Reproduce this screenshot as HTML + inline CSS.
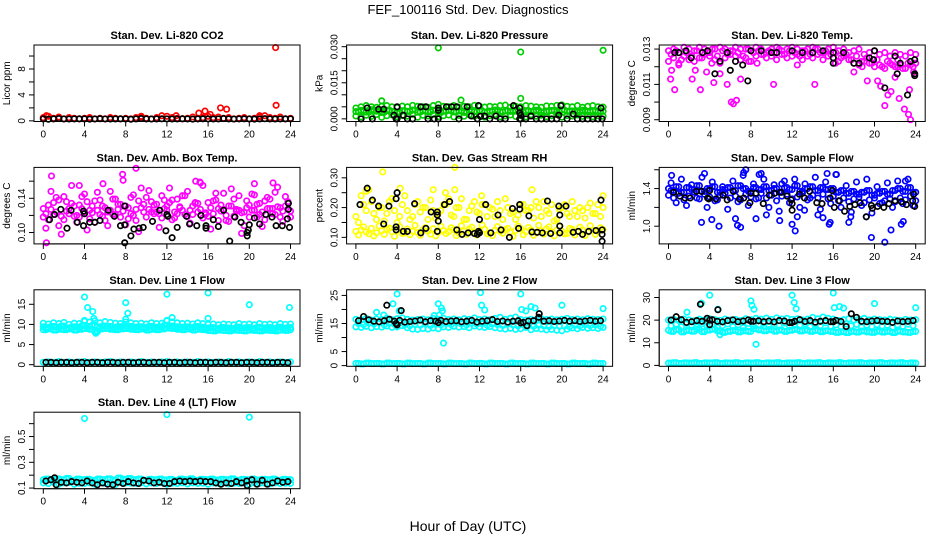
<!DOCTYPE html>
<html><head><meta charset="utf-8">
<style>
html,body{margin:0;padding:0;background:#fff;}
svg{display:block;font-family:"Liberation Sans",sans-serif;}
</style></head>
<body>
<svg id="chart" width="936" height="540" viewBox="0 0 936 540">
<rect x="0" y="0" width="936" height="540" fill="#fff"/>
<text x="468" y="14" font-size="13" text-anchor="middle">FEF_100116  Std. Dev. Diagnostics</text>
<text x="468" y="531" font-size="14" text-anchor="middle">Hour of Day (UTC)</text>
</svg>
<script>
// ---------- shared hour grids (categories) ----------
const H = [0,0.5,1,1.5,2,2.5,3,3.5,4,4.5,5,5.5,6,6.5,7,7.5,8,8.5,9,9.5,10,10.5,11,11.5,12,12.5,13,13.5,14,14.5,15,15.5,16,16.5,17,17.5,18,18.5,19,19.5,20,20.5,21,21.5,22,22.5,23,23.5,24];
const H2 = [0.25,0.75,1.25,1.75,2.25,2.75,3.25,3.75,4.25,4.75,5.25,5.75,6.25,6.75,7.25,7.75,8.25,8.75,9.25,9.75,10.25,10.75,11.25,11.75,12.25,12.75,13.25,13.75,14.25,14.75,15.25,15.75,16.25,16.75,17.25,17.75,18.25,18.75,19.25,19.75,20.25,20.75,21.25,21.75,22.25,22.75,23.25,23.75];
const xTickLabels = [0,4,8,12,16,20,24];

// ---------- Panel 1: CO2 ----------
const co2Red = [0.5,0.7,0.4,0.6,0.3,0.5,0.4,0.3,0.4,0.5,0.3,0.4,0.3,0.5,0.4,0.3,0.4,0.3,0.5,0.6,0.4,0.3,0.5,0.8,0.7,0.5,0.4,0.3,0.4,0.6,0.4,0.5,0.7,0.5,0.6,0.4,0.5,0.3,0.4,0.5,0.3,0.4,0.6,0.8,0.5,0.4,0.6,0.3,0.4];
const co2Black = [0.3,0.25,0.3,0.35,0.3,0.28,0.3,0.32,0.3,0.27,0.3,0.33,0.3,0.28,0.3,0.31,0.3,0.26,0.3,0.34,0.3,0.29,0.3,0.32,0.3,0.28,0.3,0.33,0.3,0.27,0.3,0.31,0.3,0.29,0.3,0.34,0.3,0.28,0.3,0.32,0.3,0.27,0.3,0.33,0.3,0.29,0.3,0.31,0.3];
const co2OutHours = [0.3,12.9,15.1,15.7,17.2,17.8,21.0,22.55,22.6,16.2,9.5];
const co2OutVals = [0.8,0.8,1.2,1.5,2.0,1.8,0.8,11.3,2.4,1.0,0.7];

// ---------- Panel 2: Pressure ----------
const presG1 = [0.0045,0.005,0.0055,0.005,0.0048,0.0052,0.0055,0.005,0.0047,0.0053,0.005,0.0056,0.0052,0.005,0.0048,0.0055,0.006,0.0052,0.005,0.0055,0.0048,0.0052,0.005,0.0056,0.0053,0.0049,0.0052,0.005,0.0055,0.0057,0.0048,0.0052,0.005,0.0055,0.0053,0.005,0.0048,0.0054,0.0052,0.0056,0.0058,0.0052,0.005,0.0055,0.0048,0.0052,0.0055,0.005,0.0049];
const presG2 = [0.003,0.0035,0.0028,0.0038,0.0032,0.0027,0.0036,0.003,0.0025,0.0034,0.0031,0.0037,0.0028,0.0033,0.003,0.0036,0.0026,0.0032,0.0035,0.0029,0.0033,0.0027,0.0036,0.003,0.0034,0.0028,0.0032,0.0037,0.0029,0.0033,0.0031,0.0035,0.0027,0.0034,0.003,0.0036,0.0028,0.0032,0.0035,0.0029,0.0037,0.0031,0.0033,0.0028,0.0036,0.003,0.0034,0.0029,0.0032];
const presG3 = [0.0012,0.0008,0.0015,0.001,0.0018,0.0006,0.0013,0.0017,0.0009,0.0014,0.0011,0.0019,0.0007,0.0015,0.0012,0.0018,0.0009,0.0013,0.0016,0.0008,0.0014,0.0011,0.0017,0.001,0.0015,0.0007,0.0013,0.0018,0.0009,0.0012,0.0016,0.001,0.0014,0.0008,0.0017,0.0011,0.0015,0.0009,0.0013,0.0018,0.0007,0.0014,0.0012,0.0016,0.001,0.0015,0.0009,0.0013,0.0011];
const presGOutHours = [8.0,16.0,24.0,16.0,2.5,10.2];
const presGOutVals = [0.0295,0.0278,0.0285,0.0085,0.0075,0.0078];
const presBlackHours = [0.5,1.6,3.9,4.0,5.0,5.5,7.0,7.6,8.0,10.0,11.8,13.0,14.0,14.5,15.9,16.0,16.5,17.5,18.0,18.5,19.0,19.5,20.5,21.5,22.0,22.5,23.0,23.5,23.9,1.1,2.2,2.7,3.7,4.0,4.6,6.3,6.8,8.0,8.0,8.8,9.3,9.8,10.8,11.2,11.9,12.1,12.5,13.6,15.3,15.9,15.9,16.0,17.0,19.7,19.9,21.1,23.8];
const presBlackVals = [0,0,0,0,0,0,0,0,0,0,0,0,0,0,0,0,0,0,0,0,0,0,0,0,0,0,0,0,0,0.0045,0.004,0.004,0.0015,0.005,0.0015,0.005,0.005,0.0045,0.0035,0.005,0.005,0.005,0.005,0.0012,0.0055,0.001,0.0012,0.0012,0.0055,0.0045,0.0025,0.0015,0.0012,0.0015,0.0055,0.002,0.0045];

// ---------- Panel 3: Li-820 Temp ----------
const tempMagA = [0.0129,0.013,0.0128,0.0131,0.013,0.0129,0.0131,0.013,0.0128,0.013,0.0131,0.013,0.0129,0.0131,0.013,0.013,0.0129,0.0131,0.013,0.0128,0.013,0.0131,0.0129,0.013,0.0131,0.013,0.0129,0.013,0.0131,0.013,0.0128,0.013,0.0131,0.0129,0.013,0.0128,0.0129,0.013,0.0127,0.0128,0.0129,0.0127,0.0128,0.0126,0.0128,0.0127,0.0126,0.0128,0.0127];
const tempMagB = [0.0123,0.0125,0.0122,0.0126,0.0124,0.0123,0.0125,0.0127,0.0126,0.0124,0.0122,0.0125,0.0127,0.0126,0.0124,0.0125,0.0123,0.0126,0.0127,0.0125,0.0126,0.0124,0.0127,0.0125,0.0126,0.0127,0.0124,0.0126,0.0125,0.0127,0.0124,0.0126,0.0125,0.0123,0.0126,0.0124,0.0122,0.0121,0.0123,0.0122,0.012,0.0121,0.0119,0.0122,0.012,0.0121,0.0119,0.0121,0.0122];
const tempMagC = [0.0127,0.0129,0.0124,0.0128,0.0126,0.0129,0.0125,0.0128,0.013,0.0126,0.0129,0.0127,0.0129,0.0128,0.0126,0.013,0.0128,0.0129,0.0127,0.0129,0.0128,0.013,0.0127,0.0129,0.0128,0.0126,0.0129,0.0127,0.013,0.0128,0.0129,0.0127,0.0128,0.0125,0.0127,0.0124,0.0126,0.0123,0.0125,0.0122,0.0124,0.012,0.0123,0.0121,0.0124,0.0119,0.0122,0.012];
const tempOutHours = [0.3,0.2,0.6,2.3,2.6,3.1,3.7,4.4,5.0,5.7,6.1,6.3,6.6,7.0,8.6,10.2,12.5,14.2,18.0,19.3,20.3,21.0,21.3,21.6,22.4,22.9,23.3,23.5,23.4,22.0,20.6,23.8,22.3,18.8,4.2,7.8,16.2,1.0];
const tempOutVals = [0.0118,0.0113,0.0107,0.0113,0.0118,0.0107,0.0117,0.0111,0.0116,0.011,0.01,0.0099,0.0101,0.0113,0.0122,0.011,0.0121,0.011,0.0117,0.0112,0.0112,0.0098,0.0104,0.0106,0.0102,0.0096,0.0093,0.009,0.0107,0.0114,0.0109,0.0117,0.012,0.012,0.0122,0.0123,0.0122,0.0121];
const tempBlackHours = [0.6,1.0,1.7,2.2,3.3,3.8,4.5,5.0,5.7,6.0,6.5,7.2,7.7,8.0,9.0,10.0,10.5,12.0,13.0,14.0,15.0,16.0,16.0,16.0,17.0,18.0,18.5,19.5,20.0,19.9,21.0,22.0,22.5,22.2,23.2,23.5,23.9,23.9,23.9];
const tempBlackVals = [0.0128,0.0128,0.0129,0.0125,0.0128,0.0129,0.0116,0.0123,0.0128,0.0118,0.0123,0.0121,0.0112,0.0129,0.0129,0.0128,0.0128,0.0129,0.0128,0.0128,0.0129,0.0128,0.0125,0.0122,0.0128,0.0122,0.0122,0.0125,0.0129,0.0124,0.0108,0.0126,0.0122,0.0116,0.0104,0.0123,0.0116,0.0115,0.0124];

// ---------- Panel 4: Amb Box Temp ----------
const ambMagA = [0.128,0.115,0.135,0.108,0.142,0.122,0.131,0.118,0.145,0.126,0.112,0.138,0.129,0.148,0.121,0.133,0.109,0.141,0.127,0.152,0.118,0.136,0.124,0.143,0.131,0.115,0.139,0.126,0.148,0.121,0.134,0.155,0.119,0.137,0.128,0.146,0.113,0.139,0.126,0.108,0.132,0.144,0.121,0.137,0.128,0.147,0.118,0.131,0.125];
const ambMagB = [0.118,0.132,0.121,0.138,0.115,0.128,0.119,0.132,0.124,0.116,0.137,0.121,0.114,0.126,0.139,0.118,0.131,0.122,0.114,0.129,0.141,0.124,0.133,0.117,0.126,0.138,0.122,0.143,0.119,0.131,0.124,0.117,0.135,0.122,0.114,0.127,0.131,0.119,0.143,0.124,0.118,0.126,0.134,0.115,0.139,0.121,0.129,0.142,0.118];
const ambMagC = [0.105,0.148,0.124,0.098,0.136,0.155,0.112,0.142,0.103,0.131,0.147,0.119,0.108,0.139,0.127,0.161,0.116,0.144,0.101,0.133,0.149,0.122,0.106,0.138,0.152,0.117,0.129,0.143,0.111,0.135,0.158,0.121,0.104,0.146,0.132,0.114,0.151,0.125,0.099,0.137,0.145,0.118,0.107,0.141,0.128,0.153,0.113,0.136];
const ambMagD = [0.122,0.127,0.141,0.119,0.125,0.134,0.12,0.128,0.136,0.123,0.126,0.131,0.124,0.121,0.133,0.125,0.129,0.12,0.137,0.124,0.127,0.132,0.122,0.128,0.135,0.124,0.13,0.121,0.126,0.134,0.127,0.123,0.129,0.138,0.125,0.12,0.131,0.127,0.123,0.129,0.126,0.133,0.124,0.128,0.122,0.13,0.125,0.127];
const ambOutHours = [0.8,0.3,7.7,9.0,14.8,22.3,5.8,15.2,20.5,3.5];
const ambOutVals = [0.166,0.088,0.168,0.175,0.16,0.158,0.157,0.159,0.157,0.155];
const ambBlackHours = [0.6,1.1,1.7,2.3,2.7,3.3,3.9,3.9,4.0,4.5,5.0,5.5,6.3,6.9,7.5,7.9,7.9,7.9,8.5,8.8,9.3,9.7,10.6,11.3,11.9,12.0,12.1,12.5,13.0,13.9,14.2,14.9,15.3,15.8,15.8,16.5,17.0,17.5,18.1,18.6,19.2,19.8,19.8,19.9,20.0,20.5,21.0,21.6,22.2,22.6,23.2,23.7,23.8,23.8,23.9];
const ambBlackVals = [0.115,0.121,0.127,0.105,0.126,0.112,0.125,0.108,0.122,0.112,0.112,0.114,0.126,0.119,0.108,0.109,0.131,0.088,0.096,0.104,0.105,0.106,0.113,0.126,0.102,0.121,0.119,0.094,0.106,0.119,0.11,0.108,0.12,0.108,0.105,0.115,0.107,0.126,0.09,0.118,0.112,0.096,0.1,0.103,0.109,0.117,0.11,0.121,0.118,0.108,0.108,0.116,0.134,0.127,0.106];

// ---------- Panel 5: Gas Stream RH ----------
const rhYelA = [0.12,0.125,0.118,0.13,0.115,0.122,0.127,0.119,0.124,0.113,0.128,0.12,0.116,0.125,0.121,0.129,0.117,0.123,0.119,0.126,0.114,0.121,0.128,0.118,0.122,0.127,0.115,0.124,0.12,0.126,0.117,0.123,0.129,0.119,0.125,0.116,0.122,0.128,0.118,0.124,0.121,0.113,0.127,0.12,0.125,0.117,0.123,0.119,0.126];
const rhYelB = [0.108,0.135,0.112,0.105,0.138,0.11,0.131,0.104,0.136,0.115,0.109,0.14,0.107,0.133,0.111,0.105,0.137,0.113,0.132,0.106,0.139,0.11,0.134,0.108,0.141,0.112,0.106,0.136,0.114,0.13,0.104,0.138,0.109,0.133,0.107,0.14,0.111,0.135,0.105,0.137,0.112,0.13,0.108,0.134,0.106,0.139,0.11,0.132];
const rhYelC = [0.17,0.24,0.19,0.22,0.16,0.2,0.18,0.23,0.15,0.21,0.19,0.17,0.22,0.2,0.16,0.19,0.18,0.21,0.23,0.17,0.2,0.16,0.19,0.22,0.18,0.21,0.2,0.17,0.19,0.23,0.18,0.16,0.21,0.19,0.2,0.22,0.17,0.19,0.21,0.16,0.2,0.18,0.22,0.17,0.19,0.2,0.18,0.21,0.24];
const rhYelD = [0.15,0.21,0.26,0.18,0.2,0.155,0.22,0.19,0.17,0.24,0.16,0.21,0.185,0.2,0.225,0.165,0.19,0.21,0.175,0.2,0.23,0.16,0.205,0.185,0.21,0.17,0.195,0.22,0.16,0.2,0.185,0.175,0.21,0.19,0.165,0.2,0.22,0.18,0.155,0.195,0.21,0.17,0.19,0.2,0.165,0.215,0.18,0.17];
const rhOutHours = [2.6,9.6,1.0,4.3,7.5,8.7,9.6,17.1,24.0,12.2];
const rhOutVals = [0.32,0.335,0.255,0.265,0.26,0.25,0.26,0.26,0.2,0.24];
const rhBlackHours = [0.4,1.1,1.6,2.2,2.7,3.2,3.9,4.0,3.9,3.9,4.6,5.0,5.7,6.3,6.8,7.3,7.9,7.9,8.0,7.9,8.6,9.1,9.8,10.3,10.9,11.5,11.9,12.0,12.0,11.8,12.6,13.1,13.8,14.1,14.9,15.2,15.9,15.9,15.8,16.8,17.1,17.6,18.1,18.6,18.9,19.7,19.8,19.8,19.8,20.4,21.1,21.6,22.0,22.6,23.3,23.8,23.9,23.9,23.9];
const rhBlackVals = [0.21,0.265,0.225,0.205,0.145,0.205,0.23,0.25,0.125,0.135,0.12,0.12,0.213,0.115,0.13,0.185,0.185,0.175,0.155,0.12,0.21,0.22,0.125,0.11,0.115,0.113,0.12,0.115,0.16,0.11,0.21,0.115,0.175,0.125,0.1,0.197,0.21,0.195,0.13,0.172,0.118,0.117,0.115,0.222,0.113,0.205,0.175,0.138,0.115,0.205,0.117,0.12,0.11,0.12,0.123,0.225,0.125,0.11,0.087];

// ---------- Panel 6: Sample Flow ----------
const sfBlueA = [1.4,1.38,1.42,1.36,1.41,1.39,1.43,1.37,1.4,1.42,1.36,1.39,1.41,1.38,1.43,1.4,1.37,1.41,1.39,1.42,1.38,1.4,1.36,1.41,1.39,1.43,1.37,1.4,1.42,1.38,1.41,1.39,1.4,1.36,1.38,1.35,1.37,1.34,1.36,1.38,1.33,1.35,1.37,1.34,1.38,1.4,1.37,1.41,1.36];
const sfBlueB = [1.33,1.3,1.35,1.28,1.32,1.36,1.29,1.34,1.31,1.27,1.33,1.35,1.3,1.32,1.28,1.34,1.31,1.29,1.35,1.3,1.33,1.27,1.32,1.34,1.29,1.31,1.35,1.28,1.33,1.3,1.34,1.29,1.32,1.27,1.3,1.26,1.29,1.31,1.25,1.28,1.3,1.24,1.27,1.29,1.26,1.3,1.28,1.32,1.27];
const sfBlueC = [1.46,1.25,1.5,1.22,1.44,1.3,1.52,1.2,1.47,1.28,1.42,1.18,1.48,1.26,1.54,1.22,1.45,1.3,1.5,1.2,1.44,1.16,1.48,1.25,1.5,1.2,1.45,1.3,1.52,1.18,1.47,1.24,1.55,1.2,1.43,1.15,1.47,1.22,1.5,1.14,1.42,1.25,1.46,1.2,1.48,1.24,1.5,1.22];
const sfOutHours = [0.3,3.2,3.5,4.2,4.9,6.5,6.7,7.3,7.5,7.0,8.5,9.5,10.8,11.0,12.0,12.3,12.5,13.2,14.5,15.0,15.4,15.6,15.7,16.3,17.5,17.7,19.7,19.2,21.0,21.6,22.6,22.8,23.0,8.8,9.0];
const sfOutVals = [1.54,1.04,1.56,1.07,1.0,1.08,1.01,1.57,1.6,0.99,1.08,1.12,1.06,1.45,1.02,0.95,1.1,1.17,1.12,1.09,1.56,1.02,1.04,1.55,1.04,1.1,0.88,1.1,0.83,0.96,1.02,1.05,1.48,1.55,1.56];
const sfBlackHours = [0.5,1.1,1.6,2.1,2.7,3.2,3.8,3.9,4.0,4.6,5.3,5.7,6.3,6.9,7.3,7.9,8.0,8.5,9.2,9.8,10.3,10.9,11.5,11.9,12.0,12.0,12.7,13.2,13.7,14.4,14.9,15.7,15.9,16.1,16.6,17.1,17.6,18.1,18.6,19.2,19.7,19.8,20.3,20.9,21.4,22.0,22.6,23.1,23.7,23.8,23.9];
const sfBlackVals = [1.36,1.32,1.3,1.3,1.37,1.37,1.3,1.29,1.38,1.29,1.33,1.28,1.37,1.29,1.3,1.25,1.35,1.35,1.24,1.33,1.35,1.36,1.32,1.28,1.24,1.17,1.34,1.3,1.37,1.25,1.24,1.3,1.38,1.2,1.27,1.16,1.21,1.23,1.25,1.1,1.22,1.19,1.21,1.2,1.24,1.27,1.26,1.23,1.27,1.34,1.21];

// ---------- Panel 7: Line 1 Flow ----------
const l1CyanA = [10.3,10.1,10.4,10.2,10.5,10.0,10.3,10.2,10.8,10.6,10.9,10.4,10.7,10.5,10.3,10.2,10.6,10.4,10.2,10.3,10.1,10.4,10.2,10.3,10.9,10.6,10.4,10.2,10.3,10.1,10.4,10.2,10.0,10.1,9.9,10.1,10.0,9.9,10.2,10.0,10.1,9.9,10.2,10.0,10.1,9.9,10.2,10.0,10.1];
const l1CyanB = [9.4,9.2,9.5,9.3,9.6,9.1,9.4,9.3,9.7,9.5,9.8,9.4,9.6,9.5,9.3,9.4,9.6,9.5,9.3,9.4,9.2,9.5,9.3,9.4,9.8,9.6,9.4,9.3,9.4,9.2,9.5,9.3,9.1,9.2,9.0,9.2,9.1,9.0,9.3,9.1,9.2,9.0,9.3,9.1,9.2,9.0,9.3,9.1,9.2];
const l1CyanC = [8.7,8.9,8.6,8.8,8.7,8.9,8.6,8.8,9.0,8.8,8.2,8.9,9.0,8.8,8.7,8.9,9.0,8.8,8.7,8.9,8.6,8.8,8.7,8.9,9.1,9.0,8.8,8.7,8.9,8.6,8.8,8.7,8.5,8.4,8.6,8.5,8.4,8.6,8.5,8.4,8.6,8.5,8.4,8.6,8.5,8.4,8.6,8.5,8.7];
const l1CyanLow = [0.6,0.7,0.6,0.8,0.6,0.7,0.6,0.7,0.8,0.6,0.7,0.6,0.7,0.8,0.6,0.7,0.6,0.7,0.6,0.8,0.6,0.7,0.6,0.7,0.8,0.6,0.7,0.6,0.7,0.6,0.8,0.6,0.7,0.6,0.7,0.6,0.8,0.6,0.7,0.6,0.7,0.6,0.8,0.6,0.7,0.6,0.7,0.6,0.7];
const l1BlackLow = [0.6,0.6,0.5,0.6,0.6,0.5,0.6,0.6,0.5,0.6,0.6,0.5,0.6,0.6,0.5,0.6,0.6,0.5,0.6,0.6,0.5,0.6,0.6,0.5,0.6,0.6,0.5,0.6,0.6,0.5,0.6,0.6,0.5,0.6,0.6,0.5,0.6,0.6,0.5,0.6,0.6,0.5,0.6,0.6,0.5,0.6,0.6,0.5];
const l1OutHours = [4.0,4.3,4.8,4.9,5.1,8.0,8.2,8.0,12.0,12.5,16.0,16.0,20.0,23.9,12.0,4.0];
const l1OutVals = [16.8,14.2,13.2,11.5,7.8,15.4,12.8,11.3,17.5,11.7,17.8,11.5,14.9,14.2,11.0,11.0];

// ---------- Panel 8: Line 2 Flow ----------
const l2CyanA = [16.5,16.3,16.8,16.2,16.6,16.4,16.9,16.3,16.7,17.0,16.5,16.2,16.4,16.6,16.3,16.8,16.5,16.9,16.4,16.6,16.3,16.7,16.5,17.0,16.4,16.6,16.3,16.8,17.2,16.5,16.9,17.3,16.4,16.2,16.5,16.3,16.7,16.4,16.6,16.3,16.5,16.8,16.4,16.6,16.3,16.7,16.5,16.4,16.6];
const l2CyanB = [13.8,13.6,14.0,13.5,13.9,13.7,14.1,13.6,13.8,14.2,13.5,13.0,12.9,13.2,13.0,13.4,13.1,13.8,13.6,14.0,13.7,13.9,13.5,14.1,13.8,13.6,13.9,13.5,13.2,13.0,13.3,12.9,13.1,13.6,12.8,13.2,13.0,12.7,12.9,12.6,12.4,13.0,13.4,13.1,13.6,13.3,13.5,13.2,13.6];
const l2CyanC = [15.0,14.6,15.2,14.8,15.4,14.5,15.1,14.7,15.3,14.6,14.2,14.8,14.4,14.9,14.3,14.7,14.5,15.0,14.6,15.2,14.8,14.5,15.1,14.7,15.0,14.4,14.9,14.6,14.3,14.8,14.5,14.1,14.7,14.2,14.0,14.4,14.1,13.9,14.3,14.0,14.2,13.8,14.4,14.1,14.6,14.2,14.5,14.0,14.4];
const l2CyanLow = [0.8,0.6,0.9,0.7,0.8,0.6,0.9,0.7,0.8,0.6,0.9,0.7,0.8,0.6,0.9,0.7,0.8,0.6,0.9,0.7,0.8,0.6,0.9,0.7,0.8,0.6,0.9,0.7,0.8,0.6,0.9,0.7,0.8,0.6,0.9,0.7,0.8,0.6,0.9,0.7,0.8,0.6,0.9,0.7,0.8,0.6,0.9,0.7,0.8];
const l2OutHours = [4.0,3.6,2.0,2.7,8.0,8.3,8.4,8.5,12.1,12.2,12.5,16.0,16.1,16.5,17.0,17.4,20.0,24.0,4.2,7.6,8.1];
const l2OutVals = [25.5,22.0,19.0,18.0,22.0,20.5,19.5,8.0,26.0,21.5,19.8,25.5,20.0,19.5,21.0,20.5,21.5,20.3,19.5,17.8,18.0];
const l2BlackA = [16.0,17.5,16.3,15.8,15.6,16.0,16.5,15.8,16.1,15.5,15.7,15.9,16.2,15.6,16.0,15.8,16.1,15.7,15.9,16.0,15.6,15.8,16.1,15.5,15.8,16.0,16.4,15.7,15.9,15.5,15.8,16.0,15.4,15.9,16.0,17.2,15.8,16.0,15.7,15.9,16.1,15.8,16.0,15.7,15.9,16.1,15.8,16.0];
const l2BlackOutHours = [3.0,4.4,17.8,4.0,16.6,3.9,16.0,8.0];
const l2BlackOutVals = [21.5,19.6,18.5,14.5,14.2,15.0,15.2,15.3];

// ---------- Panel 9: Line 3 Flow ----------
const l3CyanA = [20.0,20.3,19.8,20.5,20.1,19.7,20.4,20.0,20.6,20.2,19.9,20.5,20.1,20.3,19.8,20.6,20.2,20.8,20.4,20.9,20.3,21.0,20.5,20.8,20.3,20.6,20.0,20.4,21.2,20.6,21.4,20.8,20.5,19.8,20.2,20.6,20.0,20.4,20.8,20.1,20.5,20.2,20.0,20.4,20.1,19.9,20.3,20.0,20.2];
const l3CyanB = [15.5,15.0,15.8,14.8,15.4,15.1,15.9,14.9,15.6,16.0,15.2,14.6,15.0,15.4,14.8,15.3,15.0,16.2,15.7,15.3,15.8,15.1,15.6,15.0,15.5,15.9,15.2,15.6,15.0,15.4,14.9,15.3,15.0,14.6,14.9,14.5,15.0,14.7,15.2,14.8,14.6,15.1,14.7,15.0,14.5,15.1,14.8,14.6,15.0];
const l3CyanLow = [1.0,1.2,0.9,1.1,1.0,1.2,0.9,1.1,1.0,1.2,0.9,1.1,1.0,1.2,0.9,1.1,1.0,1.2,0.9,1.1,1.0,1.2,0.9,1.1,1.0,1.2,0.9,1.1,1.0,1.2,0.9,1.1,1.0,1.2,0.9,1.1,1.0,1.2,0.9,1.1,1.0,1.2,0.9,1.1,1.0,1.2,0.9,1.1,1.0];
const l3CyanMid = [17.5,18.2,17.0,18.6,17.8,16.9,18.4,17.2,18.0,16.8,17.6,18.3,17.1,17.9,16.7,18.5,17.4,17.9,18.6,17.2,18.1,17.5,18.7,17.3,18.0,17.7,18.4,17.1,18.2,17.6,18.8,17.3,17.9,17.0,18.3,17.5,18.1,16.9,17.8,17.2,18.0,17.4,17.7,16.8,17.9,17.3,18.2,17.5];
const l3OutHours = [3.2,4.0,1.8,8.0,8.1,8.3,8.5,12.0,12.2,12.4,16.0,16.1,16.6,17.0,20.0,24.0,5.0,4.8];
const l3OutVals = [27.5,31.0,23.5,28.5,26.5,24.8,9.3,31.0,27.8,25.0,32.0,25.5,26.0,25.3,27.3,25.5,13.5,24.8];
const l3BlackA = [20.0,21.5,20.2,19.0,19.3,19.8,19.5,20.8,20.2,19.5,19.2,19.8,20.1,19.3,19.6,20.1,19.5,19.7,19.3,19.6,19.2,19.8,19.6,18.9,19.5,20.2,19.4,19.8,19.1,19.5,19.8,19.3,19.9,19.4,17.2,22.8,21.2,19.5,19.3,19.6,19.8,19.5,19.4,19.0,19.6,19.3,19.5,19.8];
const l3BlackOutHours = [3.1,4.0,4.0,4.8,16.0,12.0,8.0];
const l3BlackOutVals = [27.0,20.0,18.0,24.6,19.3,19.0,19.5];

// ---------- Panel 10: Line 4 (LT) Flow ----------
const l4CyanA = [0.165,0.17,0.16,0.172,0.165,0.175,0.16,0.17,0.165,0.168,0.16,0.17,0.165,0.172,0.162,0.178,0.168,0.175,0.165,0.17,0.16,0.168,0.165,0.17,0.163,0.168,0.16,0.17,0.165,0.172,0.16,0.168,0.165,0.17,0.162,0.168,0.165,0.172,0.16,0.168,0.165,0.17,0.162,0.168,0.165,0.17,0.16,0.168,0.165];
const l4CyanB = [0.14,0.135,0.145,0.13,0.14,0.142,0.13,0.138,0.135,0.14,0.13,0.142,0.136,0.14,0.128,0.145,0.14,0.138,0.135,0.14,0.132,0.14,0.136,0.142,0.13,0.138,0.135,0.14,0.132,0.14,0.136,0.138,0.13,0.14,0.135,0.14,0.132,0.138,0.135,0.14,0.13,0.14,0.136,0.138,0.132,0.14,0.135,0.138,0.136];
const l4Black = [0.155,0.165,0.125,0.145,0.14,0.15,0.145,0.14,0.155,0.14,0.125,0.14,0.13,0.125,0.145,0.135,0.15,0.14,0.135,0.16,0.155,0.14,0.145,0.135,0.135,0.15,0.155,0.15,0.155,0.15,0.155,0.15,0.15,0.14,0.13,0.14,0.135,0.15,0.14,0.155,0.165,0.13,0.16,0.13,0.14,0.155,0.145,0.15];
const l4OutHours = [4.0,12.0,20.0,1.1,19.8];
const l4OutVals = [0.64,0.67,0.65,0.18,0.12];

// ---------- palette ----------
const RED='#ff0000', GRN='#00cd00', MAG='#ff00ff', YEL='#ffff00', BLU='#0000ff', CYA='#00ffff', BLK='#000000';

const panels = [
 {name:'co2',col:0,row:0,title:'Stan. Dev. Li-820 CO2',ylab:'Licor ppm',ylim:[-0.1,11.7],ticks:[0,2,4,6,8,10],labels:[[0,'0'],[4,'4'],[8,'8']],
  series:[[RED,H,co2Red],[RED,co2OutHours,co2OutVals],[BLK,H,co2Black]]},
 {name:'pressure',col:1,row:0,title:'Stan. Dev. Li-820 Pressure',ylab:'kPa',ylim:[-0.0011,0.0307],ticks:[0,0.005,0.01,0.015,0.02,0.025,0.03],labels:[[0,'0.000'],[0.015,'0.015'],[0.03,'0.030']],
  series:[[GRN,H,presG1],[GRN,H2,presG2.slice(0,48)],[GRN,H,presG3],[GRN,H,presG2],[GRN,presGOutHours,presGOutVals],[BLK,presBlackHours,presBlackVals]]},
 {name:'li820-temp',col:2,row:0,title:'Stan. Dev. Li-820 Temp.',ylab:'degrees C',ylim:[0.0089,0.01323],ticks:[0.009,0.010,0.011,0.012,0.013],labels:[[0.009,'0.009'],[0.011,'0.011'],[0.013,'0.013']],
  series:[[MAG,H,tempMagA],[MAG,H,tempMagB],[MAG,H2,tempMagC],[MAG,tempOutHours,tempOutVals],[BLK,tempBlackHours,tempBlackVals]]},
 {name:'amb-box-temp',col:0,row:1,title:'Stan. Dev. Amb. Box Temp.',ylab:'degrees C',ylim:[0.0867,0.1761],ticks:[0.10,0.12,0.14,0.16],labels:[[0.10,'0.10'],[0.14,'0.14']],
  series:[[MAG,H,ambMagA],[MAG,H,ambMagB],[MAG,H2,ambMagC],[MAG,H2,ambMagD],[MAG,ambOutHours,ambOutVals],[BLK,ambBlackHours,ambBlackVals]]},
 {name:'gas-stream-rh',col:1,row:1,title:'Stan. Dev. Gas Stream RH',ylab:'percent',ylim:[0.078,0.335],ticks:[0.10,0.15,0.20,0.25,0.30],labels:[[0.10,'0.10'],[0.20,'0.20'],[0.30,'0.30']],
  series:[[YEL,H,rhYelA],[YEL,H2,rhYelB],[YEL,H,rhYelC],[YEL,H2,rhYelD],[YEL,rhOutHours,rhOutVals],[BLK,rhBlackHours,rhBlackVals]]},
 {name:'sample-flow',col:2,row:1,title:'Stan. Dev. Sample Flow',ylab:'ml/min',ylim:[0.812,1.625],ticks:[1.0,1.2,1.4,1.6],labels:[[1.0,'1.0'],[1.4,'1.4']],
  series:[[BLU,H,sfBlueA],[BLU,H2,sfBlueA.slice(1)],[BLU,H,sfBlueB],[BLU,H2,sfBlueC],[BLU,sfOutHours,sfOutVals],[BLK,sfBlackHours,sfBlackVals]]},
 {name:'line1-flow',col:0,row:2,title:'Stan. Dev. Line 1 Flow',ylab:'ml/min',ylim:[-0.4,18.6],ticks:[0,5,10,15],labels:[[0,'0'],[5,'5'],[10,'10'],[15,'15']],
  series:[[CYA,H,l1CyanA],[CYA,H2,l1CyanB.slice(1)],[CYA,H,l1CyanB],[CYA,H,l1CyanC],[CYA,H2,l1CyanC.slice(0,48)],[CYA,H,l1CyanLow],[CYA,l1OutHours,l1OutVals],[BLK,H2,l1BlackLow]]},
 {name:'line2-flow',col:1,row:2,title:'Stan. Dev. Line 2 Flow',ylab:'ml/min',ylim:[-0.25,27.0],ticks:[0,5,10,15,20,25],labels:[[0,'0'],[5,'5'],[15,'15'],[25,'25']],
  series:[[CYA,H,l2CyanA],[CYA,H,l2CyanB],[CYA,H2,l2CyanC.slice(0,48)],[CYA,H,l2CyanLow],[CYA,H2,l2CyanLow.slice(0,48)],[CYA,l2OutHours,l2OutVals],[BLK,H2,l2BlackA],[BLK,l2BlackOutHours,l2BlackOutVals]]},
 {name:'line3-flow',col:2,row:2,title:'Stan. Dev. Line 3 Flow',ylab:'ml/min',ylim:[-0.4,33.4],ticks:[0,10,20,30],labels:[[0,'0'],[10,'10'],[20,'20'],[30,'30']],
  series:[[CYA,H,l3CyanA],[CYA,H,l3CyanB],[CYA,H2,l3CyanB.slice(1)],[CYA,H2,l3CyanMid],[CYA,H,l3CyanLow],[CYA,H2,l3CyanLow.slice(0,48)],[CYA,l3OutHours,l3OutVals],[BLK,H2,l3BlackA],[BLK,l3BlackOutHours,l3BlackOutVals]]},
 {name:'line4-flow',col:0,row:3,title:'Stan. Dev. Line 4 (LT) Flow',ylab:'ml/min',ylim:[0.095,0.689],ticks:[0.1,0.2,0.3,0.4,0.5,0.6],labels:[[0.1,'0.1'],[0.3,'0.3'],[0.5,'0.5']],
  series:[[CYA,H,l4CyanA],[CYA,H,l4CyanB],[CYA,H2,l4CyanA.slice(1)],[CYA,l4OutHours.slice(0,3),l4OutVals.slice(0,3)],[BLK,H2,l4Black],[BLK,l4OutHours.slice(3),l4OutVals.slice(3)]]}
];

const NS='http://www.w3.org/2000/svg';
const svg=document.getElementById('chart');
function mk(tag,attrs,parent){const e=document.createElementNS(NS,tag);for(const k in attrs)e.setAttribute(k,attrs[k]);(parent||svg).appendChild(e);return e;}

panels.forEach(p=>{
  const L=34+p.col*312.6, T=45+p.row*122.4, W=266, Hh=76.5;
  const xs=h=>L+9.3+h*10.3;
  const ys=v=>T+Hh-(v-p.ylim[0])/(p.ylim[1]-p.ylim[0])*Hh;
  const g=mk('g',{});
  
  
  const pts=mk('g',{fill:'none','stroke-width':'1.7'},g);
  
  
  p.series.forEach(s=>{
    const [col,xa,ya]=s;
    for(let i=0;i<ya.length&&i<xa.length;i++){
      const c=mk('circle',{cx:xs(xa[i]).toFixed(1),cy:ys(ya[i]).toFixed(1),r:'2.7',stroke:col},pts);
      
      
    }
  });
  const box=mk('rect',{x:L,y:T,width:W,height:Hh,fill:'none',stroke:'#000','stroke-width':'1'},g);
  
  
  const t=mk('text',{x:L+W/2,y:T-6,'font-size':'11','font-weight':'bold','text-anchor':'middle'},g);
  t.textContent=p.title;
  
  
  const xa=mk('g',{stroke:'#000','stroke-width':'1'},g);
  
  
  mk('line',{x1:xs(0),x2:xs(24),y1:T+Hh,y2:T+Hh},xa);
  xTickLabels.forEach(h=>{
    mk('line',{x1:xs(h),x2:xs(h),y1:T+Hh,y2:T+Hh+5},xa);
    const tx=mk('text',{x:xs(h),y:T+Hh+16,'font-size':'10','text-anchor':'middle',stroke:'none',fill:'#000'},xa);
    tx.textContent=String(h);
    
    
  });
  const ya=mk('g',{stroke:'#000','stroke-width':'1'},g);
  
  
  mk('line',{x1:L,x2:L,y1:ys(p.ticks[0]),y2:ys(p.ticks[p.ticks.length-1])},ya);
  p.ticks.forEach(v=>{mk('line',{x1:L-5,x2:L,y1:ys(v),y2:ys(v)},ya);});
  p.labels.forEach(([v,s])=>{
    const y=ys(v), x=L-9;
    const tx=mk('text',{x:x,y:y,'font-size':'10','text-anchor':'middle',transform:`rotate(-90 ${x} ${y})`,stroke:'none',fill:'#000'},ya);
    tx.textContent=s;
    
    
  });
  const yl=L-24, yc=T+Hh/2;
  const lab=mk('text',{x:yl,y:yc,'font-size':'10','text-anchor':'middle',transform:`rotate(-90 ${yl} ${yc})`},g);
  lab.textContent=p.ylab;
  
  
});
</script>
</body></html>
